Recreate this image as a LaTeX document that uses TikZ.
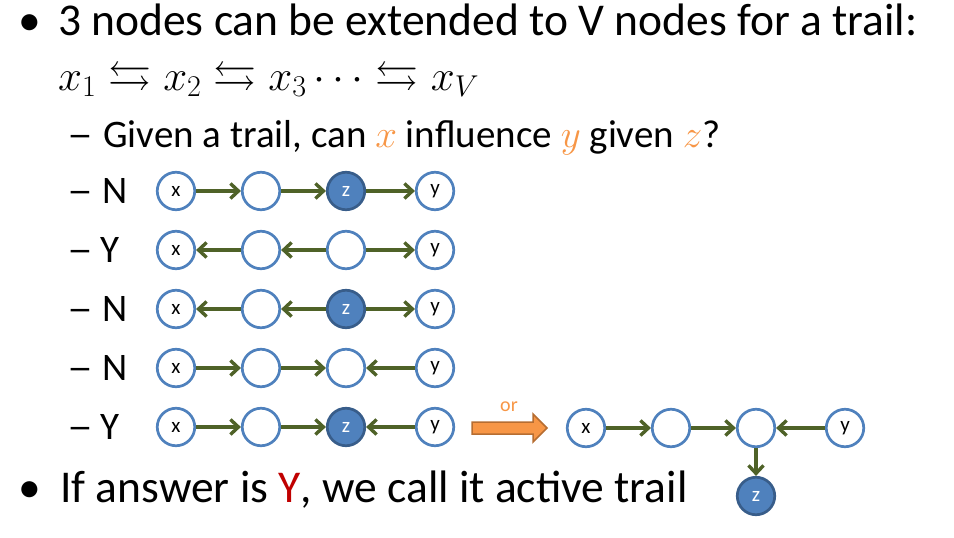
\RequirePackage{fix-cm}
\documentclass[tikz,border=0pt]{standalone}
\usepackage{amssymb}
\usepackage{fontspec}
\setmainfont{Carlito}
\usetikzlibrary{arrows.meta}
\definecolor{nodeblue}{HTML}{4F81BD}
\definecolor{darkblue}{HTML}{385D8A}
\definecolor{arrgreen}{HTML}{4F6228}
\definecolor{orng}{HTML}{F79646}
\definecolor{orngdark}{HTML}{B66D31}
\definecolor{ansred}{HTML}{C00000}
\newcommand{\longdash}{\scalebox{1.33}[1]{–}}
\tikzset{
  vnode/.style={circle, draw=nodeblue, fill=white, line width=2.7pt, minimum size=37.5pt, inner sep=0pt, font=\fontsize{21}{21}\selectfont},
  obsnode/.style={vnode, fill=nodeblue, draw=darkblue, text=white},
  edge/.style={draw=arrgreen, line width=3.4pt, -{Straight Barb[length=8pt,width=15pt,line width=3.4pt]}},
  bigtext/.style={anchor=base west, inner sep=0pt, font=\fontsize{45.5}{45.5}\selectfont},
  subtext/.style={anchor=base west, inner sep=0pt, font=\fontsize{39}{39}\selectfont},
}
\begin{document}
\begin{tikzpicture}[x=1pt,y=-1pt]
\useasboundingbox (0,0) rectangle (954,538);
% bullets and text
\node[bigtext] (b1) at (18,35) {•};
\node[bigtext] (t1) at (58,35) {3 nodes can be extended to V nodes for a trail:};
\node[bigtext, font=\fontsize{43}{43}\selectfont] (t2) at (58,90) {$x_1 \leftrightarrows x_2 \leftrightarrows x_3 \cdots \leftrightarrows x_V$};
\node[subtext] (d0) at (67,147) {\longdash};
\node[subtext] (t3) at (103,147) {Given a trail, can \textcolor{orng}{$x$} influence \textcolor{orng}{$y$} given \textcolor{orng}{$z$}?};
\node[subtext] (d1) at (67,203) {\longdash};
\node[subtext] (l1) at (102,203) {N};
\node[subtext] (d2) at (67,262) {\longdash};
\node[subtext] (l2) at (100,262) {Y};
\node[subtext] (d3) at (67,321) {\longdash};
\node[subtext] (l3) at (102,321) {N};
\node[subtext] (d4) at (67,380) {\longdash};
\node[subtext] (l4) at (102,380) {N};
\node[subtext] (d5) at (67,439) {\longdash};
\node[subtext] (l5) at (100,439) {Y};
\node[bigtext] (b2) at (18,502) {•};
\node[bigtext] (t4) at (60,502) {If answer is \textcolor{ansred}{Y}, we call it active trail};
% row 1
\node[vnode] (a1) at (176,191) {x};
\node[vnode] (a2) at (261,191) {};
\node[obsnode] (a3) at (346,191) {z};
\node[vnode] (a4) at (435,191) {y};
\draw[edge] (a1) -- (a2);
\draw[edge] (a2) -- (a3);
\draw[edge] (a3) -- (a4);
% row 2
\node[vnode] (b1n) at (176,250) {x};
\node[vnode] (b2n) at (261,250) {};
\node[vnode] (b3n) at (346,250) {};
\node[vnode] (b4n) at (435,250) {y};
\draw[edge] (b2n) -- (b1n);
\draw[edge] (b3n) -- (b2n);
\draw[edge] (b3n) -- (b4n);
% row 3
\node[vnode] (c1) at (176,309) {x};
\node[vnode] (c2) at (261,309) {};
\node[obsnode] (c3) at (346,309) {z};
\node[vnode] (c4) at (435,309) {y};
\draw[edge] (c2) -- (c1);
\draw[edge] (c3) -- (c2);
\draw[edge] (c3) -- (c4);
% row 4
\node[vnode] (d1n) at (176,368) {x};
\node[vnode] (d2n) at (261,368) {};
\node[vnode] (d3n) at (346,368) {};
\node[vnode] (d4n) at (435,368) {y};
\draw[edge] (d1n) -- (d2n);
\draw[edge] (d2n) -- (d3n);
\draw[edge] (d4n) -- (d3n);
% row 5
\node[vnode] (e1) at (176,427) {x};
\node[vnode] (e2) at (261,427) {};
\node[obsnode] (e3) at (346,427) {z};
\node[vnode] (e4) at (435,427) {y};
\draw[edge] (e1) -- (e2);
\draw[edge] (e2) -- (e3);
\draw[edge] (e4) -- (e3);
% orange block arrow
\draw[fill=orng, draw=orngdark, line width=1.5pt, line join=miter]
  (472,422) -- (533,422) -- (533,414) -- (547,428) -- (533,442) -- (533,434) -- (472,434) -- cycle;
\node[text=orng, font=\fontsize{20}{20}\selectfont, inner sep=0pt] (or) at (509,407) {or};
% right diagram
\node[vnode] (f1) at (586,428) {x};
\node[vnode] (f2) at (671,428) {};
\node[vnode] (f3) at (756,428) {};
\node[vnode] (f4) at (845,428) {y};
\node[obsnode] (f5) at (756,496) {z};
\draw[edge] (f1) -- (f2);
\draw[edge] (f2) -- (f3);
\draw[edge] (f4) -- (f3);
\draw[edge] (f3) -- (f5);
\end{tikzpicture}
\end{document}
